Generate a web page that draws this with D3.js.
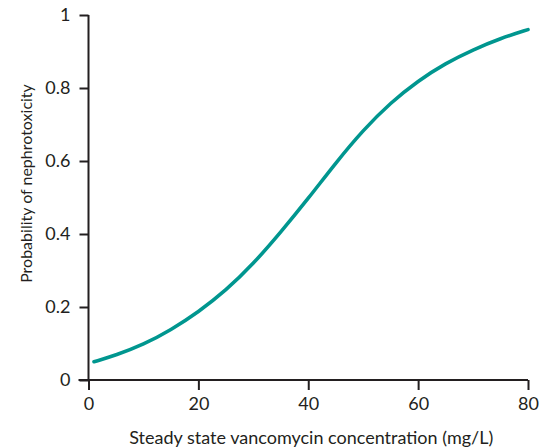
<!DOCTYPE html>
<html lang="en">
<head>
<meta charset="utf-8">
<title>Probability of nephrotoxicity</title>
<script src="https://cdn.jsdelivr.net/npm/d3@7"></script>
<style>
  body { margin: 0; background: #fff; }
  .axis path, .axis line { fill: none; stroke: #231f20; stroke-width: 2; }
  .axis text { font-family: Lato, "Open Sans", sans-serif; font-size: 18px; fill: #231f20; }
  .label { font-family: Lato, "Open Sans", sans-serif; font-size: 18px; fill: #231f20; }
</style>
</head>
<body>
<div id="chart"></div>
<script>
// values
var concentration = [1, 5, 10, 15, 20, 25, 30, 35, 40, 45, 50, 55, 60, 65, 70, 75, 80];
var probability = [0.05, 0.068, 0.097, 0.137, 0.186, 0.245, 0.318, 0.405, 0.497, 0.595, 0.685, 0.76, 0.82, 0.868, 0.905, 0.936, 0.96];
var xTicks = [0, 20, 40, 60, 80];
var yTicks = [0, 0.2, 0.4, 0.6, 0.8, 1];

var W = 546, H = 448;
var margin = {top: 15, right: 18, bottom: 68, left: 88.5};
var w = W - margin.left - margin.right,
    h = H - margin.top - margin.bottom;

var svg = d3.select("#chart").append("svg")
  .attr("width", W).attr("height", H)
  .append("g")
  .attr("transform", "translate(" + margin.left + "," + margin.top + ")");

var x = d3.scaleLinear().domain([0, 80]).range([0, w]);
var y = d3.scaleLinear().domain([0, 1]).range([h, 0]);

svg.append("g")
  .attr("class", "axis")
  .attr("transform", "translate(0," + h + ")")
  .call(d3.axisBottom(x).tickValues(xTicks).tickSize(10).tickPadding(7).tickSizeOuter(0))
  .call(function(g) { g.select(".domain").attr("d", "M-10,0H" + w); });

svg.append("g")
  .attr("class", "axis")
  .call(d3.axisLeft(y).tickValues(yTicks).tickSize(9).tickPadding(9).tickSizeOuter(0)
        .tickFormat(function(d) { return d; }))
  .call(function(g) { g.select(".domain").attr("d", "M0," + h + "V0"); });

var data = concentration.map(function(c, i) { return {x: c, y: probability[i]}; });

svg.append("path")
  .datum(data)
  .attr("fill", "none")
  .attr("stroke", "#00968f")
  .attr("stroke-width", 3.6)
  .attr("stroke-linecap", "round")
  .attr("d", d3.line()
    .x(function(d) { return x(d.x); })
    .y(function(d) { return y(d.y); })
    .curve(d3.curveBasis));

svg.append("text")
  .attr("class", "label")
  .attr("x", w / 2 + 3)
  .attr("y", h + 64)
  .attr("text-anchor", "middle")
  .text("Steady state vancomycin concentration (mg/L)");

svg.append("text")
  .attr("class", "label")
  .attr("transform", "rotate(-90)")
  .attr("x", -168.5)
  .attr("y", -57)
  .attr("text-anchor", "middle")
  .style("font-size", "16px")
  .text("Probability of nephrotoxicity");
</script>
</body>
</html>
